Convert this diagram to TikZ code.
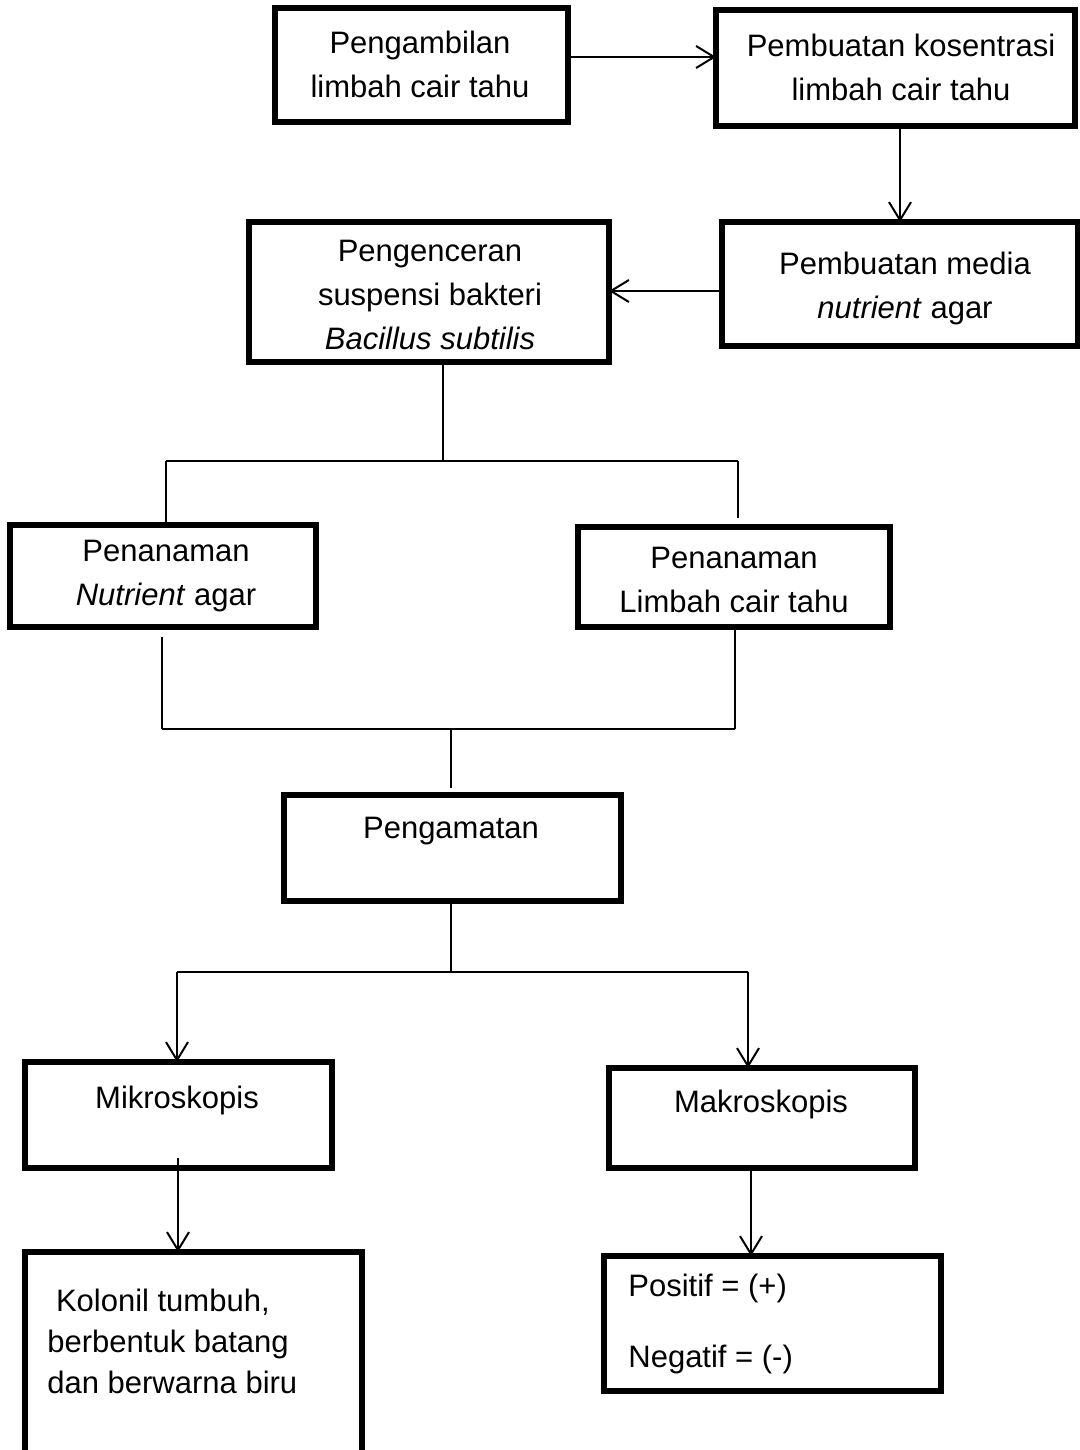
\documentclass[tikz,border=0pt]{standalone}
\usepackage{fontspec}
\setmainfont{Liberation Sans}
\usetikzlibrary{arrows.meta}
\begin{document}
\begin{tikzpicture}[x=0.5pt,y=-0.5pt,
  box/.style={draw,line width=2.6pt,rectangle,inner sep=0pt,outer sep=0pt},
  txt/.style={align=center,inner sep=0pt,font=\fontsize{15.5}{22}\selectfont},
  ln/.style={line width=1pt},
  arr/.style={line width=1pt,-{Straight Barb[length=9pt,width=11pt,line width=1pt]}}]
\useasboundingbox (0,0) rectangle (1080,1450);
% boxes
\node[box,minimum width=146.5pt,minimum height=57pt] (b1) at (421.5,65) {};
\node[box,minimum width=179.5pt,minimum height=58pt] (b2) at (895.5,68) {};
\node[box,minimum width=178pt,minimum height=62pt] (b3) at (900,284) {};
\node[box,minimum width=180pt,minimum height=70pt] (b4) at (429,292) {};
\node[box,minimum width=153pt,minimum height=51pt] (b5) at (163,576) {};
\node[box,minimum width=156pt,minimum height=50pt] (b6) at (734,577) {};
\node[box,minimum width=168.5pt,minimum height=53pt] (b7) at (452.5,848) {};
\node[box,minimum width=153.5pt,minimum height=53pt] (b8) at (178.5,1115) {};
\node[box,minimum width=153pt,minimum height=50pt] (b9) at (762,1118) {};
\node[box,minimum width=168.5pt,minimum height=110pt,anchor=north] (b10) at (193.5,1252) {};
\node[box,minimum width=168.5pt,minimum height=67.5pt] (b11) at (772.5,1323.5) {};
% texts
\node[txt] (t1) at (420,64) {Pengambilan\\limbah cair tahu};
\node[txt] (t2) at (901,67) {Pembuatan kosentrasi\\limbah cair tahu};
\node[txt] (t3) at (905,288) {Pembuatan media\\\textit{nutrient} agar};
\node[txt] (t4) at (430,295) {Pengenceran\\suspensi bakteri\\\textit{Bacillus subtilis}};
\node[txt] (t5) at (166,576) {Penanaman\\\textit{Nutrient} agar};
\node[txt] (t6) at (734,580) {Penanaman\\Limbah cair tahu};
\node[txt] (t7) at (451,831) {Pengamatan};
\node[txt] (t8) at (177,1100) {Mikroskopis};
\node[txt] (t9) at (761,1104) {Makroskopis};
\node[txt,align=left,anchor=west,font=\fontsize{15.5}{20.5}\selectfont] (t10) at (47,1341) {\ Kolonil tumbuh,\\berbentuk batang\\dan berwarna biru};
\node[txt,anchor=west] (t11a) at (628,1288) {Positif = (+)};
\node[txt,anchor=west] (t11b) at (628,1359) {Negatif = (-)};
% connectors
\draw[arr] (b1.east|-0,57) -- (b2.west|-0,57);
\draw[arr] (900,0|-b2.south) -- (900,0|-b3.north);
\draw[arr] (b3.west|-0,291) -- (b4.east|-0,291);
% branch after b4
\coordinate (j1) at (443,461);
\coordinate (l1) at (166,461);
\coordinate (r1) at (738,461);
\coordinate (r1e) at (738,518);
\draw[ln] (443,0|-b4.south) -- (j1);
\draw[ln] (l1) -- (r1);
\draw[ln] (l1) -- (166,0|-b5.north);
\draw[ln] (r1) -- (r1e);
% merge to b7
\coordinate (l2s) at (162,637);
\coordinate (l2) at (162,729);
\coordinate (r2) at (735,729);
\coordinate (j2) at (451,729);
\coordinate (j2e) at (451,788);
\draw[ln] (l2s) -- (l2);
\draw[ln] (735,0|-b6.south) -- (r2);
\draw[ln] (l2) -- (r2);
\draw[ln] (j2) -- (j2e);
% branch after b7
\coordinate (j3) at (451,972);
\coordinate (l3) at (177,972);
\coordinate (r3) at (748,972);
\draw[ln] (451,0|-b7.south) -- (j3);
\draw[ln] (l3) -- (r3);
\draw[arr] (l3) -- (177,0|-b8.north);
\draw[arr] (r3) -- (748,0|-b9.north);
% down to results
\coordinate (m1) at (178,1158);
\draw[arr] (m1) -- (178,0|-b10.north);
\draw[arr] (751,0|-b9.south) -- (751,0|-b11.north);
\end{tikzpicture}
\end{document}
